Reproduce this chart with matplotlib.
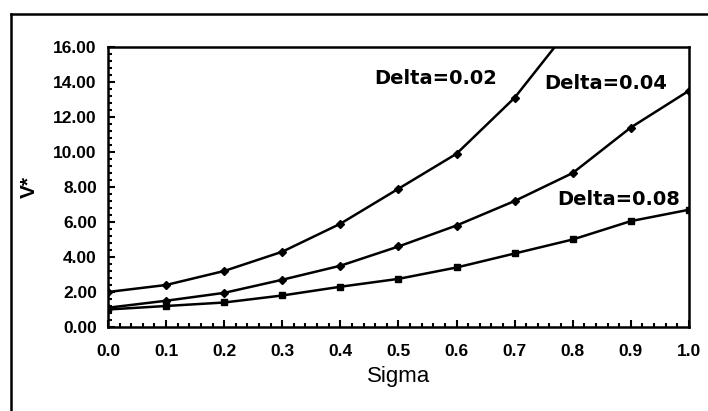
import matplotlib
matplotlib.use('Agg')
import matplotlib.pyplot as plt
import matplotlib.ticker as ticker
from matplotlib.lines import Line2D

# V* 값 (Sigma 별, Delta 세 가지)
sigma = [0.0, 0.1, 0.2, 0.3, 0.4, 0.5, 0.6, 0.7, 0.8, 0.9, 1.0]
v_d002 = [2.0, 2.4, 3.2, 4.3, 5.9, 7.9, 9.9, 13.1, 17.3]
v_d004 = [1.1, 1.5, 1.95, 2.7, 3.5, 4.6, 5.8, 7.2, 8.8, 11.4, 13.5]
v_d008 = [1.0, 1.2, 1.4, 1.8, 2.3, 2.75, 3.4, 4.2, 5.0, 6.05, 6.7]
labels = ['Delta=0.02', 'Delta=0.04', 'Delta=0.08']

fig = plt.figure(figsize=(7.08, 4.11), dpi=100)
ax = fig.add_axes([0.1525, 0.2044, 0.8205, 0.6812])

ax.plot(sigma[:len(v_d002)], v_d002, '-D', color='k', lw=1.8, ms=4)
ax.plot(sigma, v_d004, '-D', color='k', lw=1.8, ms=4)
ax.plot(sigma, v_d008, '-s', color='k', lw=1.8, ms=4)

# 곡선 옆 라벨
ax.text(0.564, 14.2, labels[0], ha='center', va='center', fontsize=14, fontweight='bold', family='DejaVu Sans')
ax.text(0.857, 13.9, labels[1], ha='center', va='center', fontsize=14, fontweight='bold', family='DejaVu Sans')
ax.text(0.879, 7.26, labels[2], ha='center', va='center', fontsize=14, fontweight='bold', family='DejaVu Sans')

ax.set_xlim(0, 1.0)
ax.set_ylim(0, 16)
ax.xaxis.set_major_locator(ticker.MultipleLocator(0.1))
ax.xaxis.set_minor_locator(ticker.MultipleLocator(0.02))
ax.yaxis.set_major_locator(ticker.MultipleLocator(2))
ax.yaxis.set_minor_locator(ticker.MultipleLocator(0.4))
ax.xaxis.set_major_formatter(ticker.FormatStrFormatter('%.1f'))
ax.yaxis.set_major_formatter(ticker.FormatStrFormatter('%.2f'))

ax.tick_params(which='both', direction='in', top=False, right=False, width=1.5)
ax.tick_params(which='major', length=5)
ax.tick_params(which='minor', length=3)
ax.tick_params(axis='x', pad=12)
ax.tick_params(axis='y', pad=8)
for lab in ax.get_xticklabels() + ax.get_yticklabels():
    lab.set_family('Liberation Sans')
    lab.set_fontweight('bold')
    lab.set_fontsize(12.5)
for sp in ax.spines.values():
    sp.set_linewidth(1.8)

ax.set_xlabel('Sigma', fontsize=16, family='Liberation Sans', labelpad=5)
ax.set_ylabel('V*', fontsize=15, family='Liberation Sans', fontweight='bold', labelpad=10)

# 바깥 테두리 (왼쪽, 위)
fig.add_artist(Line2D([0.0155, 0.0155], [0.0, 0.966], color='k', lw=1.8, transform=fig.transFigure))
fig.add_artist(Line2D([0.0155, 1.0], [0.966, 0.966], color='k', lw=1.8, transform=fig.transFigure))

fig.savefig('out.png', dpi=100)
